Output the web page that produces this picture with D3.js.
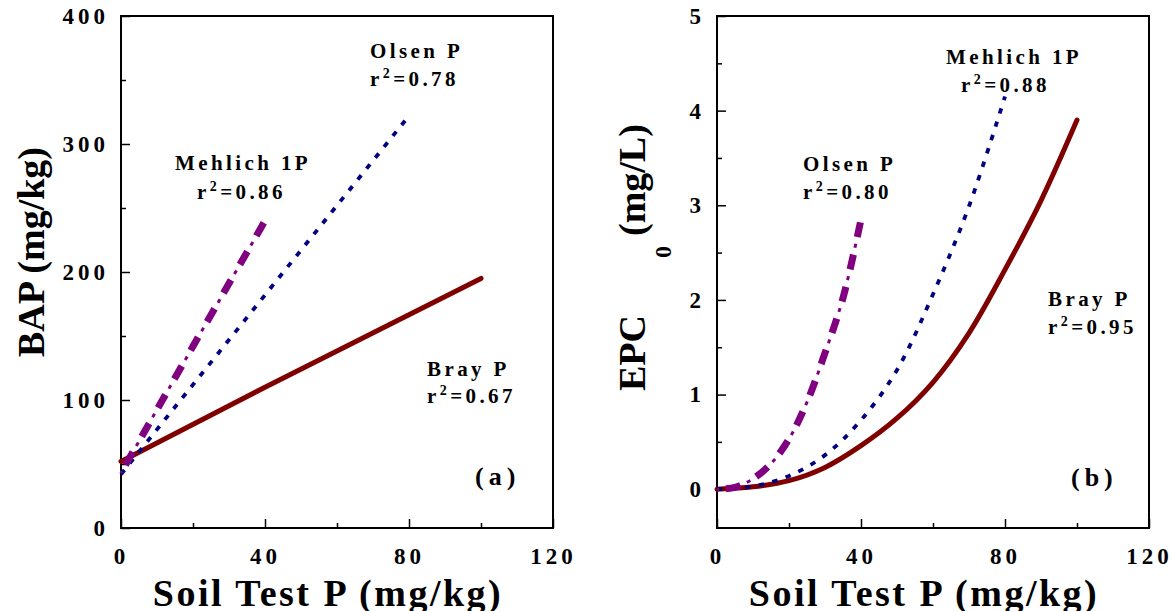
<!DOCTYPE html>
<html>
<head>
<meta charset="utf-8">
<script src="https://cdn.jsdelivr.net/npm/d3@7"></script>
<style>
  body { margin: 0; background: #fff; }
  text { font-family: "Liberation Serif", "Times New Roman", serif; font-weight: bold; }
</style>
</head>
<body>
<div id="chart"></div>
<script>
// tick values
const xTicks = [0, 40, 80, 120];
const xMinor = [20, 60, 100];
const bapTicks = [0, 100, 200, 300, 400];
const bapMinor = [50, 150, 250, 350];
const epcTicks = [0, 1, 2, 3, 4, 5];
const epcMinor = [0.5, 1.5, 2.5, 3.5, 4.5];

// (a) BAP vs soil test P
const brayBapX = [0, 40, 100];
const brayBapY = [52, 110, 195];
const olsenBapX = [0, 40, 80];
const olsenBapY = [42, 182, 322];
const mehlichBapX = [0, 20, 40];
const mehlichBapY = [43, 142, 240];

// (b) EPC0 vs soil test P
const brayEpcX = [0, 10, 20, 30, 40, 50, 60, 70, 80, 90, 100];
const brayEpcY = [0, 0.025, 0.09, 0.23, 0.46, 0.75, 1.13, 1.65, 2.32, 3.05, 3.9];
const mehlichEpcX = [0, 10, 20, 30, 40, 50, 60, 70, 80];
const mehlichEpcY = [0, 0.03, 0.14, 0.36, 0.73, 1.26, 2.06, 2.99, 4.15];
const olsenEpcX = [0, 5, 10, 15, 20, 25, 30, 35, 40];
const olsenEpcY = [0, 0.02, 0.11, 0.27, 0.53, 0.92, 1.44, 2.02, 2.85];

// annotation texts
const bapNames = ["Olsen P", "Mehlich 1P", "Bray P"];
const bapR2 = ["0.78", "0.86", "0.67"];
const epcNames = ["Mehlich 1P", "Olsen P", "Bray P"];
const epcR2 = ["0.88", "0.80", "0.95"];

const RED = "#800000", NAVY = "#000080", PURPLE = "#800080";

const svg = d3.select("#chart")
    .append("svg")
    .attr("width", 1172)
    .attr("height", 611);

function zip(xs, ys) {
    return xs.map((x, i) => ({ x: x, y: ys[i] }));
}

function drawPanel(cfg) {
    const x = d3.scaleLinear().domain([0, 120]).range(cfg.xRange);
    const y = d3.scaleLinear().domain(cfg.yDomain).range([528, 16]);
    const g = svg.append("g");

    // ticks and labels (ticks point inward)
    const left = g.append("g")
        .attr("transform", "translate(" + cfg.xRange[0] + ",0)")
        .call(d3.axisLeft(y).tickValues(cfg.yTicks).tickSize(-9).tickPadding(12).tickFormat(d3.format("d")));
    g.append("g")
        .attr("transform", "translate(" + cfg.xRange[0] + ",0)")
        .call(d3.axisLeft(y).tickValues(cfg.yMinor).tickSize(-5).tickFormat(""));
    const bottom = g.append("g")
        .attr("transform", "translate(0,528)")
        .call(d3.axisBottom(x).tickValues(xTicks).tickSize(-9).tickPadding(20));
    g.append("g")
        .attr("transform", "translate(0,528)")
        .call(d3.axisBottom(x).tickValues(xMinor).tickSize(-5).tickFormat(""));
    g.selectAll(".domain").remove();
    g.selectAll(".tick line").attr("stroke", "#000").attr("stroke-width", 1.5);
    [left, bottom].forEach(a => a.selectAll("text")
        .attr("font-size", 23)
        .attr("fill", "#000")
        .style("letter-spacing", "4px"));

    // frame
    g.append("rect")
        .attr("x", cfg.xRange[0])
        .attr("y", 16)
        .attr("width", cfg.xRange[1] - cfg.xRange[0])
        .attr("height", 512)
        .attr("fill", "none")
        .attr("stroke", "#000")
        .attr("stroke-width", 2);

    // lines
    const line = d3.line()
        .x(d => x(d.x))
        .y(d => y(d.y))
        .curve(cfg.curve);

    cfg.series.forEach(s => {
        const pts = zip(s.x, s.y);
        if (s.kind === "solid") {
            g.append("path").attr("d", line(pts))
                .attr("fill", "none").attr("stroke", RED).attr("stroke-width", 5)
                .attr("stroke-linecap", "round");
        } else if (s.kind === "dot") {
            g.append("path").attr("d", line(pts))
                .attr("fill", "none").attr("stroke", NAVY).attr("stroke-width", 3.8)
                .attr("stroke-dasharray", "5.5 8.5");
        } else {
            // dash-dot: thick dashes with thin dots between
            g.append("path").attr("d", line(pts))
                .attr("fill", "none").attr("stroke", PURPLE).attr("stroke-width", 7)
                .attr("stroke-dasharray", "15 18").attr("stroke-dashoffset", 24);
            g.append("path").attr("d", line(pts))
                .attr("fill", "none").attr("stroke", PURPLE).attr("stroke-width", 3)
                .attr("stroke-dasharray", "4 29").attr("stroke-dashoffset", 2);
        }
    });

    // annotations
    cfg.notes.forEach(n => {
        g.append("text")
            .attr("x", n.nx).attr("y", n.ny)
            .attr("font-size", 21)
            .style("letter-spacing", "3.4px")
            .text(n.name);
        const t = g.append("text")
            .attr("x", n.rx).attr("y", n.ry)
            .attr("font-size", 21)
            .style("letter-spacing", "3.4px");
        t.append("tspan").text("r");
        t.append("tspan").attr("dy", -8).attr("font-size", 14).text("2");
        t.append("tspan").attr("dy", 8).text("=" + n.r2);
    });

    g.append("text")
        .attr("x", cfg.tag[0]).attr("y", cfg.tag[1])
        .attr("font-size", 26)
        .style("letter-spacing", "5px")
        .text(cfg.tagText);

    // x title
    g.append("text")
        .attr("x", (cfg.xRange[0] + cfg.xRange[1]) / 2 - 9)
        .attr("y", 606)
        .attr("text-anchor", "middle")
        .attr("font-size", 38)
        .style("letter-spacing", "2.5px")
        .text("Soil Test P (mg/kg)");
}

drawPanel({
    xRange: [121, 553],
    yDomain: [0, 400],
    yTicks: bapTicks,
    yMinor: bapMinor,
    curve: d3.curveLinear,
    series: [
        { x: brayBapX, y: brayBapY, kind: "solid" },
        { x: olsenBapX, y: olsenBapY, kind: "dot" },
        { x: mehlichBapX, y: mehlichBapY, kind: "dashdot" }
    ],
    notes: [
        { name: bapNames[0], r2: bapR2[0], nx: 370, ny: 58, rx: 370, ry: 86 },
        { name: bapNames[1], r2: bapR2[1], nx: 175, ny: 170, rx: 197, ry: 199 },
        { name: bapNames[2], r2: bapR2[2], nx: 427, ny: 376, rx: 427, ry: 403 }
    ],
    tag: [475, 485],
    tagText: "(a)"
});

drawPanel({
    xRange: [717, 1149],
    yDomain: [-0.41, 5],
    yTicks: epcTicks,
    yMinor: epcMinor,
    curve: d3.curveCatmullRom.alpha(0.5),
    series: [
        { x: brayEpcX, y: brayEpcY, kind: "solid" },
        { x: mehlichEpcX, y: mehlichEpcY, kind: "dot" },
        { x: olsenEpcX, y: olsenEpcY, kind: "dashdot" }
    ],
    notes: [
        { name: epcNames[0], r2: epcR2[0], nx: 946, ny: 64, rx: 961, ry: 92 },
        { name: epcNames[1], r2: epcR2[1], nx: 803, ny: 171, rx: 803, ry: 199 },
        { name: epcNames[2], r2: epcR2[2], nx: 1048, ny: 306, rx: 1048, ry: 334 }
    ],
    tag: [1071, 486],
    tagText: "(b)"
});

// y titles
svg.append("text")
    .attr("transform", "translate(44,252) rotate(-90)")
    .attr("text-anchor", "middle")
    .attr("font-size", 38)
    .text("BAP (mg/kg)");

svg.append("text")
    .attr("transform", "translate(645,391) rotate(-90)")
    .attr("font-size", 38)
    .text("EPC");
svg.append("text")
    .attr("transform", "translate(671,258) rotate(-90)")
    .attr("font-size", 24)
    .text("0");
svg.append("text")
    .attr("transform", "translate(645,236) rotate(-90)")
    .attr("font-size", 38)
    .text("(mg/L)");
</script>
</body>
</html>
